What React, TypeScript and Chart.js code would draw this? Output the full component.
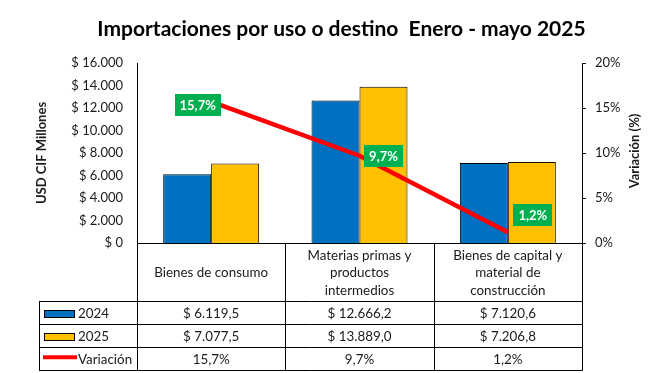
import React, { useEffect, useRef } from 'react';
import { Chart, registerables } from 'chart.js';

Chart.register(...registerables);

// ---------- data ----------
const categoryNames = [
  'Bienes de consumo',
  'Materias primas y productos intermedios',
  'Bienes de capital y material de construcción',
];
const categoryLines = [
  ['Bienes de consumo'],
  ['Materias primas y', 'productos', 'intermedios'],
  ['Bienes de capital y', 'material de', 'construcción'],
];
const seriesLabels = ['2024', '2025', 'Variación'];
const values2024 = [6119.5, 12666.2, 7120.6];
const values2025 = [7077.5, 13889.0, 7206.8];
const variation = [15.7, 9.7, 1.2];
const leftAxisMax = 16000;
const leftAxisStep = 2000;
const rightAxisMax = 20;
const rightAxisStep = 5;
const titleText = 'Importaciones por uso o destino  Enero - mayo 2025';
const leftTitle = 'USD CIF Millones';
const rightTitle = 'Variación (%)';

// ---------- styles ----------
const FONT = 'Lato';
const TEXT = '#1a1a1a';
const BLUE = '#0070C0';
const YELLOW = '#FFC000';
const RED = '#FF0000';
const GREEN = '#00B050';
const TABLE_FONT = 13.4;
const labelOffsets = [
  [-13.5, 3],
  [24, 0],
  [25, -17],
];

function groupThousands(intStr: string): string {
  return intStr.replace(/\B(?=(\d{3})+(?!\d))/g, '.');
}
function fmtMoney(v: number, decimals: number): string {
  const fixed = v.toFixed(decimals);
  const [i, d] = fixed.split('.');
  return '$ ' + groupThousands(i) + (d ? ',' + d : '');
}
function fmtPct(v: number): string {
  return v.toFixed(1).replace('.', ',') + '%';
}

const tablePlugin = {
  id: 'tableAndLabels',
  afterDatasetsDraw(chart: any) {
    const { ctx } = chart;
    const meta = chart.getDatasetMeta(2);
    ctx.save();
    ctx.font = `bold 13px ${FONT}`;
    ctx.textAlign = 'center';
    ctx.textBaseline = 'middle';
    meta.data.forEach((pt: any, i: number) => {
      const txt = fmtPct(variation[i]);
      const tw = ctx.measureText(txt).width;
      const w = tw + 10;
      const h = 22;
      const cx = pt.x + labelOffsets[i][0];
      const cy = pt.y + labelOffsets[i][1];
      ctx.fillStyle = GREEN;
      ctx.fillRect(Math.round(cx - w / 2), Math.round(cy - h / 2), Math.round(w), h);
      ctx.fillStyle = '#ffffff';
      ctx.fillText(txt, cx, cy + 1);
    });
    ctx.restore();
  },
  afterDraw(chart: any) {
    const { ctx, chartArea, scales } = chart;
    const xs = scales.x;
    const left = chartArea.left;
    const right = chartArea.right;
    const n = categoryNames.length;
    const colW = (right - left) / n;
    const bounds = [left, ...categoryNames.map((_, i) => xs.getPixelForValue(i) + colW / 2)];
    const top = chartArea.bottom;
    const rows = [top, top + 58, top + 81, top + 104, top + 126.5];
    const tableLeft = 39;
    const px = (v: number) => Math.round(v) + 0.5;

    ctx.save();
    ctx.strokeStyle = '#000';
    ctx.lineWidth = 1;
    ctx.beginPath();
    // horizontal lines
    ctx.moveTo(left, px(rows[0]));
    ctx.lineTo(right, px(rows[0]));
    for (let r = 1; r < rows.length; r++) {
      ctx.moveTo(tableLeft, px(rows[r]));
      ctx.lineTo(right + 0.5, px(rows[r]));
    }
    // vertical lines
    bounds.forEach((b) => {
      ctx.moveTo(px(b), rows[0]);
      ctx.lineTo(px(b), px(rows[4]));
    });
    ctx.moveTo(px(tableLeft), px(rows[1]));
    ctx.lineTo(px(tableLeft), px(rows[4]));
    ctx.stroke();

    // header
    ctx.fillStyle = TEXT;
    ctx.font = `${TABLE_FONT}px ${FONT}`;
    ctx.textAlign = 'center';
    ctx.textBaseline = 'middle';
    const lh = 17.6;
    const hcy = (rows[0] + rows[1]) / 2;
    categoryLines.forEach((lines, i) => {
      const cx = xs.getPixelForValue(i);
      const y0 = hcy - ((lines.length - 1) * lh) / 2;
      lines.forEach((ln, j) => ctx.fillText(ln, cx, y0 + j * lh + 1));
    });

    // data rows
    const rowValues = [
      values2024.map((v) => fmtMoney(v, 1)),
      values2025.map((v) => fmtMoney(v, 1)),
      variation.map((v) => fmtPct(v)),
    ];
    rowValues.forEach((vals, r) => {
      const cy = (rows[r + 1] + rows[r + 2]) / 2;
      vals.forEach((t, i) => {
        ctx.fillStyle = TEXT;
        ctx.textAlign = 'center';
        ctx.fillText(t, xs.getPixelForValue(i), cy + 1);
      });
      // legend key
      if (r < 2) {
        ctx.fillStyle = r === 0 ? BLUE : YELLOW;
        ctx.fillRect(44, Math.round(cy) - 3, 30, 7);
        ctx.strokeStyle = '#000';
        ctx.strokeRect(44.5, Math.round(cy) - 2.5, 30, 7);
      } else {
        ctx.strokeStyle = RED;
        ctx.lineWidth = 4;
        ctx.beginPath();
        ctx.moveTo(43, cy - 1);
        ctx.lineTo(77, cy - 1);
        ctx.stroke();
        ctx.lineWidth = 1;
      }
      ctx.fillStyle = TEXT;
      ctx.textAlign = 'left';
      ctx.fillText(seriesLabels[r], 78, cy + 1);
    });

    // right axis title (rotated to read bottom-up)
    ctx.save();
    ctx.translate(635, 151);
    ctx.rotate(-Math.PI / 2);
    ctx.font = `bold 13px ${FONT}`;
    ctx.fillStyle = TEXT;
    ctx.textAlign = 'center';
    ctx.textBaseline = 'middle';
    ctx.fillText(rightTitle, 0, 0);
    ctx.restore();

    ctx.restore();
  },
};

export default function App() {
  const ref = useRef<HTMLCanvasElement | null>(null);
  useEffect(() => {
    if (!ref.current) return;
    const chart = new Chart(ref.current, {
      type: 'bar',
      data: {
        labels: categoryNames,
        datasets: [
          {
            type: 'bar',
            label: seriesLabels[0],
            data: values2024,
            yAxisID: 'y',
            backgroundColor: BLUE,
            borderColor: '#000',
            borderWidth: 1,
            categoryPercentage: 0.647,
            barPercentage: 1,
            order: 1,
          },
          {
            type: 'bar',
            label: seriesLabels[1],
            data: values2025,
            yAxisID: 'y',
            backgroundColor: YELLOW,
            borderColor: '#000',
            borderWidth: 1,
            categoryPercentage: 0.647,
            barPercentage: 1,
            order: 1,
          },
          {
            type: 'line',
            label: seriesLabels[2],
            data: variation,
            yAxisID: 'y1',
            borderColor: RED,
            borderWidth: 4.5,
            pointRadius: 0,
            fill: false,
            tension: 0,
            order: 0,
          } as any,
        ],
      },
      options: {
        responsive: false,
        animation: false,
        devicePixelRatio: 1,
        layout: { padding: { left: 16, right: 0, top: 0, bottom: 0 } },
        plugins: {
          legend: { display: false },
          tooltip: { enabled: false },
          title: {
            display: true,
            text: titleText,
            color: '#000',
            font: { family: FONT, size: 21, weight: 'bold' },
            padding: { top: 17, bottom: 20.8 },
          },
        },
        scales: {
          x: {
            type: 'category',
            offset: true,
            grid: { display: false },
            border: { display: false },
            ticks: { display: false },
            afterFit: (s: any) => {
              s.height = 130;
            },
          },
          y: {
            position: 'left',
            min: 0,
            max: leftAxisMax,
            grid: { display: false, drawTicks: false },
            border: { display: true, color: '#000', width: 1 },
            ticks: {
              stepSize: leftAxisStep,
              padding: 14,
              color: TEXT,
              font: { family: FONT, size: 13 },
              callback: (v: any) => fmtMoney(Number(v), 0),
            },
            title: {
              display: true,
              text: leftTitle,
              color: TEXT,
              font: { family: FONT, size: 13, weight: 'bold' },
              padding: { top: 18.2, bottom: 0 },
            },
            afterFit: (s: any) => {
              s.width = 121;
            },
          },
          y1: {
            position: 'right',
            min: 0,
            max: rightAxisMax,
            grid: { display: true, drawOnChartArea: false, drawTicks: true, tickLength: 4, color: '#000' },
            border: { display: true, color: '#000', width: 1 },
            ticks: {
              stepSize: rightAxisStep,
              padding: 9,
              color: TEXT,
              font: { family: FONT, size: 13 },
              callback: (v: any) => v + '%',
            },
            afterFit: (s: any) => {
              s.width = 85;
            },
          },
        },
      } as any,
      plugins: [tablePlugin],
    });
    return () => chart.destroy();
  }, []);
  return (
    <div style={{ position: 'fixed', left: 0, top: 0, width: 667, height: 373, background: '#fff' }}>
      <canvas ref={ref} width={667} height={373} style={{ display: 'block', width: 667, height: 373 }} />
    </div>
  );
}
